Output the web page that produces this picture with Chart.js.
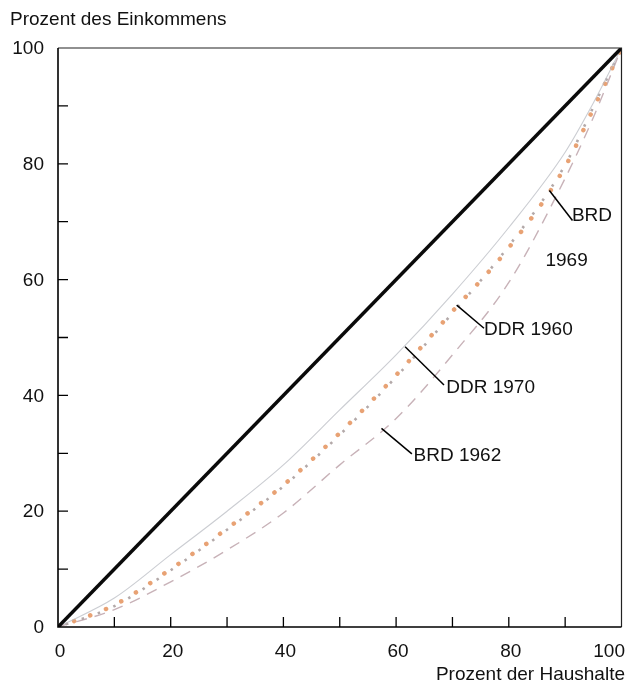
<!DOCTYPE html>
<html>
<head>
<meta charset="utf-8">
<script src="https://cdn.jsdelivr.net/npm/chart.js@4.4.1/dist/chart.umd.min.js"></script>
<style>
  html, body { margin: 0; padding: 0; background: #fff; }
  canvas { display: block; }
</style>
</head>
<body>
<canvas id="lorenz" width="626" height="685"></canvas>
<script>
// Anteil der Haushalte (x) und kumulierter Anteil des Einkommens (y), in Prozent
var householdPct = [0, 10, 20, 30, 40, 50, 60, 70, 80, 90, 95, 100];
var ddr1970 = [0, 5, 12.5, 20, 28, 37.5, 47, 57.5, 69, 82, 90.5, 100];
var ddr1960 = [0, 3.8, 10, 17, 24.5, 33.5, 43.5, 54.5, 65.5, 79.5, 89.5, 100];
var brd1969 = [0, 3.6, 9.8, 16.8, 24.3, 33.2, 43.2, 54.2, 65.8, 79.8, 89.8, 100];
var brd1962 = [0, 3, 7.8, 13.3, 19.7, 28, 36, 47, 59.5, 77.5, 88, 100];
var equalityX = [0, 100];
var equalityY = [0, 100];

var xTicks = [0, 20, 40, 60, 80, 100];
var yTicks = [0, 20, 40, 60, 80, 100];
var minorTicks = [10, 20, 30, 40, 50, 60, 70, 80, 90];

// Beschriftungen: Hinweislinie von/bis und Textanker, in Datenkoordinaten
var callouts = [
    { text: ["BRD", "1969"], from: [87.2, 75.4], to: [91.3, 70.2], at: [[91.2, 71.0], [86.5, 63.2]] },
    { text: ["DDR 1960"], from: [70.75, 55.6], to: [75.6, 51.6], at: [[75.6, 51.3]] },
    { text: ["DDR 1970"], from: [61.6, 48.4], to: [68.5, 41.8], at: [[68.9, 41.4]] },
    { text: ["BRD 1962"], from: [57.4, 34.3], to: [62.8, 29.9], at: [[63.1, 29.5]] }
];

var FONT = '19px "Liberation Sans", Arial, sans-serif';

function toPoints(xs, ys) {
    return xs.map(function (x, i) { return { x: x, y: ys[i] }; });
}

var framePlugin = {
    id: "frame",
    afterDraw: function (chart) {
        var ctx = chart.ctx;
        var xs = chart.scales.x, ys = chart.scales.y;
        var a = chart.chartArea;

        ctx.save();
        // rahmen
        ctx.strokeStyle = "#222";
        ctx.lineWidth = 1.2;
        ctx.beginPath();
        ctx.moveTo(a.left, a.top);
        ctx.lineTo(a.right, a.top);
        ctx.lineTo(a.right, a.bottom);
        ctx.stroke();
        ctx.strokeStyle = "#000";
        ctx.lineWidth = 1.6;
        ctx.beginPath();
        ctx.moveTo(a.left, a.top);
        ctx.lineTo(a.left, a.bottom);
        ctx.lineTo(a.right, a.bottom);
        ctx.stroke();

        // ticks nach innen
        ctx.lineWidth = 1.3;
        ctx.beginPath();
        minorTicks.forEach(function (v) {
            var px = xs.getPixelForValue(v);
            ctx.moveTo(px, a.bottom);
            ctx.lineTo(px, a.bottom - 10);
            var py = ys.getPixelForValue(v);
            ctx.moveTo(a.left, py);
            ctx.lineTo(a.left + 10, py);
        });
        ctx.stroke();

        // tick labels
        ctx.fillStyle = "#111";
        ctx.font = FONT;
        ctx.textBaseline = "middle";
        ctx.textAlign = "right";
        yTicks.forEach(function (v) {
            ctx.fillText(String(v), a.left - 14, ys.getPixelForValue(v) + 1);
        });
        xTicks.forEach(function (v) {
            var s = String(v);
            var w = ctx.measureText(s).width;
            var px = Math.min(xs.getPixelForValue(v), chart.width - 3 - w / 2);
            ctx.textAlign = "center";
            ctx.fillText(s, px + 2, a.bottom + 25);
        });

        // achsentitel
        ctx.textAlign = "left";
        ctx.fillText("Prozent des Einkommens", 10, 20);
        ctx.textAlign = "right";
        ctx.fillText("Prozent der Haushalte", chart.width - 1, 675);

        // callouts
        ctx.textAlign = "left";
        ctx.strokeStyle = "#000";
        ctx.lineWidth = 1.5;
        callouts.forEach(function (c) {
            ctx.beginPath();
            ctx.moveTo(xs.getPixelForValue(c.from[0]), ys.getPixelForValue(c.from[1]));
            ctx.lineTo(xs.getPixelForValue(c.to[0]), ys.getPixelForValue(c.to[1]));
            ctx.stroke();
            c.text.forEach(function (t, i) {
                ctx.fillText(t, xs.getPixelForValue(c.at[i][0]), ys.getPixelForValue(c.at[i][1]));
            });
        });
        ctx.restore();
    }
};

var chart = new Chart(document.getElementById("lorenz"), {
    type: "line",
    data: {
        datasets: [
            {
                label: "Gleichverteilung",
                data: toPoints(equalityX, equalityY),
                borderColor: "#0a0a0a",
                borderWidth: 3.5,
                pointRadius: 0
            },
            {
                label: "DDR 1970",
                data: toPoints(householdPct, ddr1970),
                borderColor: "rgba(185,188,195,0.75)",
                borderWidth: 1.1,
                pointRadius: 0,
                cubicInterpolationMode: "monotone"
            },
            {
                label: "BRD 1969",
                data: toPoints(householdPct, brd1969),
                borderColor: "#b3a9a9",
                borderWidth: 2.6,
                borderDash: [2.5, 14.5],
                borderDashOffset: -8,
                pointRadius: 0,
                cubicInterpolationMode: "monotone"
            },
            {
                label: "DDR 1960",
                data: toPoints(householdPct, ddr1960),
                borderColor: "#e8a274",
                borderWidth: 4.5,
                borderCapStyle: "round",
                borderDash: [0.1, 17],
                pointRadius: 0,
                cubicInterpolationMode: "monotone"
            },
            {
                label: "BRD 1962",
                data: toPoints(householdPct, brd1962),
                borderColor: "#c8b2b8",
                borderWidth: 1.4,
                borderDash: [11, 8],
                pointRadius: 0,
                cubicInterpolationMode: "monotone"
            }
        ]
    },
    options: {
        responsive: false,
        animation: false,
        devicePixelRatio: 1,
        layout: {
            padding: { left: 58, right: 4.5, top: 48, bottom: 58 }
        },
        plugins: {
            legend: { display: false },
            tooltip: { enabled: false }
        },
        scales: {
            x: { type: "linear", min: 0, max: 100, display: false },
            y: { type: "linear", min: 0, max: 100, display: false }
        }
    },
    plugins: [framePlugin]
});
</script>
</body>
</html>
